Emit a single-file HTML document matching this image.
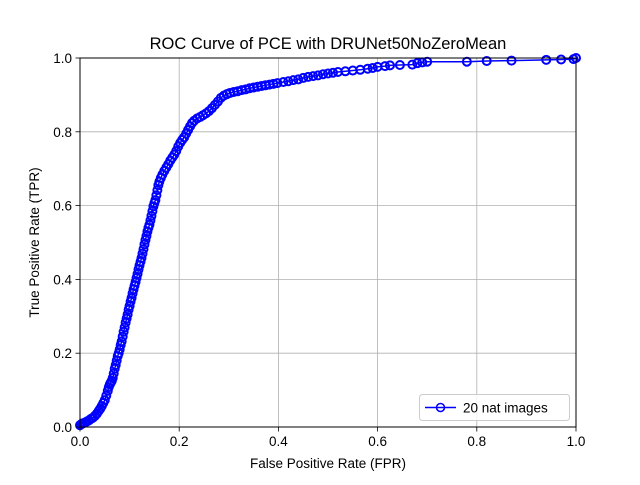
<!DOCTYPE html>
<html><head><meta charset="utf-8"><style>
html,body{margin:0;padding:0;background:#fff;}
svg text{font-family:"Liberation Sans","DejaVu Sans",sans-serif;fill:#000;}
</style></head><body>
<svg id="chart" width="640" height="480" viewBox="0 0 640 480" xmlns="http://www.w3.org/2000/svg">
<rect x="0" y="0" width="640" height="480" fill="#fff"/>
<g id="grid"></g>
<g id="series"></g>
<rect x="80" y="58" width="496" height="369" fill="none" stroke="#000" stroke-width="1"/>
<g id="ticks"></g>
<text x="328" y="49" text-anchor="middle" font-size="16.5">ROC Curve of PCE with DRUNet50NoZeroMean</text>
<text x="328" y="468" text-anchor="middle" font-size="13.5">False Positive Rate (FPR)</text>
<text transform="translate(39,242.5) rotate(-90)" text-anchor="middle" font-size="13.5">True Positive Rate (TPR)</text>
<g>
<rect x="419.5" y="394.5" width="150" height="26" rx="3" fill="#fff" fill-opacity="0.8" stroke="#ccc"/>
<line x1="425" y1="407.5" x2="456" y2="407.5" stroke="#0000ff" stroke-width="1.5"/>
<circle cx="440.5" cy="407.5" r="4" fill="none" stroke="#0000ff" stroke-width="1.5"/>
<text x="463" y="412.5" font-size="13.5">20 nat images</text>
</g>
</svg>
<script>
const fpr = [0,0.003,0.006,0.01,0.014,0.018,0.022,0.026,0.03,0.034,0.038,0.041,0.044,0.047,0.05,0.053,0.056,0.058,0.06,0.062,0.064,0.066,0.068,0.07,0.072,0.074,0.076,0.078,0.08,0.082,0.084,0.086,0.088,0.09,0.092,0.094,0.096,0.098,0.1,0.102,0.104,0.106,0.108,0.11,0.112,0.114,0.116,0.118,0.12,0.122,0.124,0.126,0.128,0.13,0.132,0.134,0.136,0.138,0.14,0.142,0.144,0.146,0.148,0.15,0.152,0.154,0.156,0.158,0.16,0.163,0.166,0.17,0.174,0.178,0.182,0.186,0.19,0.194,0.198,0.202,0.206,0.21,0.214,0.218,0.222,0.226,0.23,0.236,0.242,0.248,0.254,0.26,0.266,0.272,0.278,0.284,0.29,0.296,0.302,0.31,0.318,0.326,0.334,0.342,0.35,0.358,0.366,0.374,0.382,0.39,0.398,0.41,0.42,0.43,0.44,0.45,0.46,0.47,0.48,0.49,0.5,0.51,0.52,0.535,0.55,0.565,0.58,0.59,0.6,0.615,0.625,0.645,0.67,0.68,0.69,0.7,0.78,0.82,0.87,0.94,0.97,0.995,1];
const tpr = [0.005,0.008,0.01,0.012,0.015,0.018,0.022,0.025,0.03,0.036,0.044,0.05,0.057,0.065,0.073,0.085,0.098,0.108,0.115,0.12,0.125,0.133,0.145,0.158,0.168,0.18,0.192,0.2,0.21,0.222,0.232,0.245,0.258,0.27,0.283,0.294,0.305,0.318,0.328,0.34,0.35,0.362,0.373,0.383,0.393,0.404,0.415,0.427,0.438,0.448,0.458,0.47,0.482,0.495,0.507,0.518,0.53,0.54,0.548,0.56,0.572,0.585,0.598,0.607,0.615,0.628,0.642,0.655,0.665,0.675,0.684,0.694,0.703,0.712,0.722,0.73,0.738,0.748,0.76,0.77,0.778,0.785,0.795,0.805,0.815,0.824,0.83,0.836,0.84,0.845,0.85,0.856,0.864,0.873,0.882,0.892,0.898,0.902,0.905,0.908,0.91,0.913,0.915,0.918,0.92,0.922,0.924,0.926,0.928,0.93,0.932,0.935,0.937,0.94,0.942,0.946,0.949,0.951,0.953,0.956,0.958,0.96,0.962,0.964,0.966,0.968,0.971,0.973,0.976,0.978,0.98,0.981,0.982,0.986,0.988,0.99,0.99,0.992,0.993,0.995,0.996,0.997,1];
const xTicks = [0,0.2,0.4,0.6,0.8,1.0];
const yTicks = [0,0.2,0.4,0.6,0.8,1.0];
const xTickLabels = ["0.0","0.2","0.4","0.6","0.8","1.0"];
const yTickLabels = ["0.0","0.2","0.4","0.6","0.8","1.0"];

const NS="http://www.w3.org/2000/svg";
const X0=80,X1=576,Y0=427,Y1=58;
function sx(v){return X0+v*(X1-X0);}
function sy(v){return Y0-v*(Y0-Y1);}
function mk(tag,attrs,parent){const e=document.createElementNS(NS,tag);for(const k in attrs)e.setAttribute(k,attrs[k]);parent.appendChild(e);return e;}
const grid=document.getElementById('grid'),ticks=document.getElementById('ticks'),series=document.getElementById('series');
xTicks.forEach((t,i)=>{
  const g=mk('line',{x1:sx(t),x2:sx(t),y1:Y1,y2:Y0,stroke:'#b0b0b0','stroke-width':0.8},grid);
  
  
  const tk=mk('line',{x1:sx(t),x2:sx(t),y1:Y0,y2:Y0+4.5,stroke:'#000','stroke-width':0.8},ticks);
  
  
  const tx=mk('text',{x:sx(t),y:Y0+19,'text-anchor':'middle','font-size':13.5},ticks);
  tx.textContent=xTickLabels[i];
  
  
});
yTicks.forEach((t,i)=>{
  const g=mk('line',{x1:X0,x2:X1,y1:sy(t),y2:sy(t),stroke:'#b0b0b0','stroke-width':0.8},grid);
  
  
  const tk=mk('line',{x1:X0-4.5,x2:X0,y1:sy(t),y2:sy(t),stroke:'#000','stroke-width':0.8},ticks);
  
  
  const tx=mk('text',{x:X0-8,y:sy(t)+5,'text-anchor':'end','font-size':13.5},ticks);
  tx.textContent=yTickLabels[i];
  
  
});
const pts=fpr.map((v,i)=>sx(v)+','+sy(tpr[i])).join(' ');
const line=mk('polyline',{points:pts,fill:'none',stroke:'#0000ff','stroke-width':1.5},series);


fpr.forEach((v,i)=>{
  const c=mk('circle',{cx:sx(v),cy:sy(tpr[i]),r:4,fill:'none',stroke:'#0000ff','stroke-width':2},series);
  
  
});
</script>
</body></html>
